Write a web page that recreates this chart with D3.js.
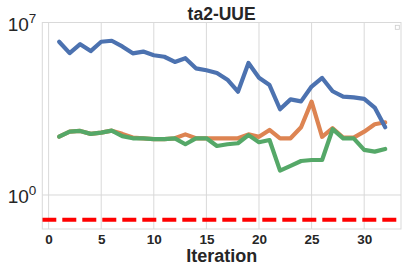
<!DOCTYPE html>
<html><head><meta charset="utf-8">
<script src="https://cdn.jsdelivr.net/npm/d3@7"></script>
<style>
html,body{margin:0;padding:0;background:#fff;}
svg{display:block;}
</style></head>
<body>
<script>
// ---- data ----
const title = "ta2-UUE";
const xLabel = "Iteration";
const iterations = d3.range(1, 33);
// log10 of values
const blueLog = [6.22,5.76,6.12,5.84,6.22,6.26,6.03,5.75,5.82,5.67,5.61,5.40,5.55,5.14,5.06,4.95,
                 4.68,4.19,5.36,4.76,4.46,3.48,3.88,3.80,4.40,4.75,4.21,3.99,3.96,3.90,3.55,2.75];
const orangeLog = [2.37,2.57,2.60,2.48,2.53,2.61,2.48,2.33,2.30,2.27,2.27,2.30,2.46,2.30,2.30,2.30,
                   2.30,2.30,2.46,2.36,2.64,2.30,2.30,2.75,3.79,2.36,2.71,2.33,2.33,2.57,2.87,2.95];
const greenLog = [2.37,2.57,2.60,2.48,2.53,2.61,2.39,2.30,2.30,2.27,2.27,2.30,2.06,2.30,2.30,1.99,
                  2.06,2.10,2.43,2.14,2.23,0.99,1.18,1.38,1.42,1.42,2.67,2.30,2.30,1.83,1.76,1.87];
const redLevel = 0.1;
const xTicks = [0,5,10,15,20,25,30];
const yTicks = [1, 1e7];
const yTickExp = ["0", "7"];

const W = 408, H = 272;
const L = 42.3, R = 401, T = 22.5, B = 229;
const gridCol = "#d9d9d9";
const textCol = "#262626";

const svg = d3.select("body").append("svg").attr("width", W).attr("height", H);

const x = d3.scaleLinear().domain([-0.6, 33.5]).range([L, R]);
const y = d3.scaleLog().domain([Math.pow(10, -1.38), 1e7]).range([B, T]);

// grid
svg.append("g").selectAll("line.vx").data(xTicks).join("line")
  .attr("x1", d => x(d)).attr("x2", d => x(d)).attr("y1", T).attr("y2", B)
  .attr("stroke", gridCol).attr("stroke-width", 1);
svg.append("g").selectAll("line.hy").data(yTicks).join("line")
  .attr("x1", L).attr("x2", R).attr("y1", d => y(d)).attr("y2", d => y(d))
  .attr("stroke", gridCol).attr("stroke-width", 1);

// frame
svg.append("rect").attr("x", L).attr("y", T).attr("width", R - L).attr("height", B - T)
  .attr("fill", "none").attr("stroke", gridCol).attr("stroke-width", 1);

svg.append("clipPath").attr("id", "clip").append("rect")
  .attr("x", L).attr("y", T).attr("width", R - L).attr("height", B - T);

const plot = svg.append("g").attr("clip-path", "url(#clip)");

// red dashed line
plot.append("line").attr("x1", L).attr("x2", R).attr("y1", y(redLevel)).attr("y2", y(redLevel))
  .attr("stroke", "#ff0000").attr("stroke-width", 4).attr("stroke-dasharray", "14,6");

const line = d3.line().x((d, i) => x(iterations[i])).y(d => y(Math.pow(10, d)));
const series = [
  {vals: orangeLog, color: "#DD8452"},
  {vals: greenLog, color: "#55A868"},
  {vals: blueLog, color: "#4C72B0"}
];
series.forEach(s => {
  plot.append("path").attr("d", line(s.vals)).attr("fill", "none")
    .attr("stroke", s.color).attr("stroke-width", 4.2)
    .attr("stroke-linejoin", "round").attr("stroke-linecap", "round");
});

// empty legend box
svg.append("rect").attr("x", 395.3).attr("y", 25.3).attr("width", 4).attr("height", 4)
  .attr("fill", "#fff").attr("stroke", "#cccccc").attr("stroke-width", 0.8);

// x axis
const xAxis = svg.append("g").attr("transform", `translate(0,${B})`)
  .call(d3.axisBottom(x).tickValues(xTicks).tickSize(0).tickFormat(d3.format("d")));
xAxis.select(".domain").remove();
xAxis.selectAll("text").attr("y", 14.5).attr("dy", 0)
  .attr("font-family", "Liberation Sans, Arial, sans-serif").attr("font-weight", "bold")
  .attr("font-size", 13.5).attr("fill", textCol);

// y axis
const yAxis = svg.append("g").attr("transform", `translate(${L},0)`)
  .call(d3.axisLeft(y).tickValues(yTicks).tickSize(0).tickPadding(6).tickFormat(() => "10"));
yAxis.select(".domain").remove();
yAxis.selectAll("text").attr("dy", 7.5)
  .attr("font-family", "Liberation Sans, Arial, sans-serif")
  .attr("font-size", 19).attr("fill", textCol)
  .each(function(d, i) {
    d3.select(this).append("tspan").attr("dy", -8).attr("font-size", 13.5).text(yTickExp[i]);
  });

// title
svg.append("text").attr("x", (L + R) / 2).attr("y", 19.5).attr("text-anchor", "middle")
  .attr("font-family", "Liberation Sans, Arial, sans-serif").attr("font-weight", "bold")
  .attr("font-size", 17.5).attr("fill", textCol).text(title);

// x label
svg.append("text").attr("x", (L + R) / 2).attr("y", 262).attr("text-anchor", "middle")
  .attr("font-family", "Liberation Sans, Arial, sans-serif").attr("font-weight", "bold")
  .attr("font-size", 18).attr("fill", textCol).text(xLabel);
</script>
</body></html>
